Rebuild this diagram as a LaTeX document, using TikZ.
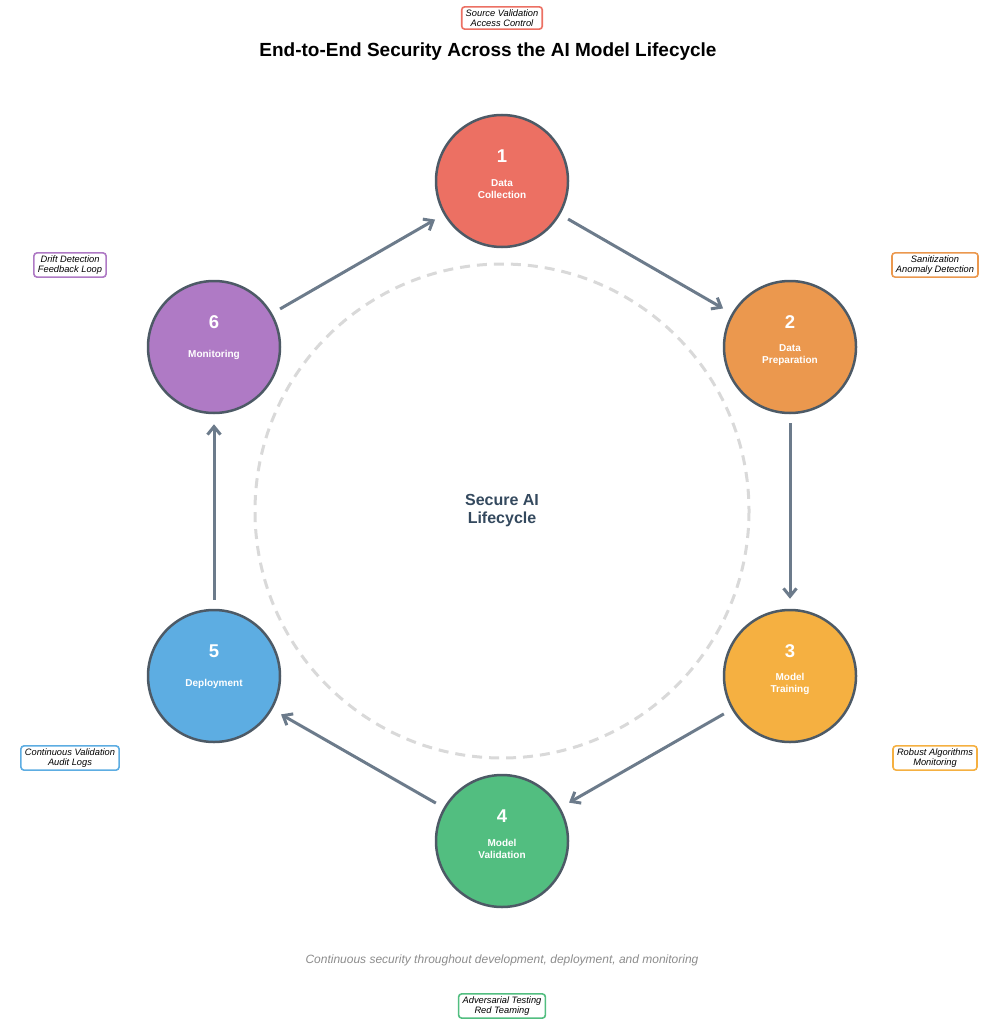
\documentclass[tikz,border=0pt]{standalone}
\usepackage{fontspec}
\setmainfont{Liberation Sans}
\usetikzlibrary{arrows.meta,positioning}
\definecolor{stagered}{HTML}{EC7063}
\definecolor{stageorange}{HTML}{EB984E}
\definecolor{stageyellow}{HTML}{F5B041}
\definecolor{stagegreen}{HTML}{52BE80}
\definecolor{stageblue}{HTML}{5DADE2}
\definecolor{stagepurple}{HTML}{AF7AC5}
\definecolor{edgegray}{HTML}{4D5A66}
\definecolor{arrowgray}{HTML}{6C7B8B}
\definecolor{ringgray}{HTML}{D9D9D9}
\definecolor{hubnavy}{HTML}{34495E}
\definecolor{notegray}{HTML}{8C8C8C}

\begin{document}
\begin{tikzpicture}[x=1pt, y=-1pt, >={Straight Barb[length=8pt,width=13pt]},
  stage/.style={circle, draw=edgegray, line width=2.5pt, minimum size=132pt, inner sep=0pt},
  stagenum/.style={font=\fontsize{18.5}{20}\selectfont\bfseries, text=white},
  stagetxt/.style={font=\fontsize{10}{12}\selectfont\bfseries, text=white, align=center},
  tag/.style={rounded corners=3pt, fill=white, line width=1.6pt, align=center,
    font=\fontsize{9.3}{10.5}\selectfont\itshape, inner xsep=4pt, inner ysep=2.5pt},
  flow/.style={->, line width=3pt, arrowgray, shorten <=9pt, shorten >=10pt}]

  \useasboundingbox (0,0) rectangle (1005,1024);
  % title
  \node[font=\fontsize{19}{22}\selectfont\bfseries] (title) at (488,52)
    {End-to-End Security Across the AI Model Lifecycle};
  % dashed ring
  \draw[ringgray, line width=3pt, dash pattern=on 10pt off 7pt] (502,511) circle[radius=247];
  \node[font=\fontsize{16}{18}\selectfont\bfseries, text=hubnavy, align=center] (hub) at (502,511)
    {Secure AI\\Lifecycle};

  % stages
  \foreach \n/\x/\y/\col/\txt in {1/502/181/stagered/{Data\\Collection},
      2/790/347/stageorange/{Data\\Preparation}, 3/790/676/stageyellow/{Model\\Training},
      4/502/841/stagegreen/{Model\\Validation}, 5/214/676/stageblue/{Deployment},
      6/214/347/stagepurple/{Monitoring}} {
    \node[stage, fill=\col] (s\n) at (\x,\y) {};
    \node[stagenum] (n\n) at (\x,\y-25) {\n};
    \node[stagetxt] (t\n) at (\x,\y+8) {\txt};
  }
  \foreach \a/\b in {1/2, 2/3, 3/4, 4/5, 5/6, 6/1}
    \draw[flow] (s\a) -- (s\b);

  % security tags
  \foreach \n/\x/\y/\col/\txt in {1/502/18/stagered/{Source Validation\\Access Control},
      2/935/265/stageorange/{Sanitization\\Anomaly Detection},
      3/935/758/stageyellow/{Robust Algorithms\\Monitoring},
      4/502/1006/stagegreen/{Adversarial Testing\\Red Teaming},
      5/70/758/stageblue/{Continuous Validation\\Audit Logs},
      6/70/265/stagepurple/{Drift Detection\\Feedback Loop}}
    \node[tag, draw=\col] (g\n) at (\x,\y) {\txt};

  % footer
  \node[font=\fontsize{12}{14}\selectfont\itshape, text=notegray] (note) at (502,960)
    {Continuous security throughout development, deployment, and monitoring};
\end{tikzpicture}
\end{document}
